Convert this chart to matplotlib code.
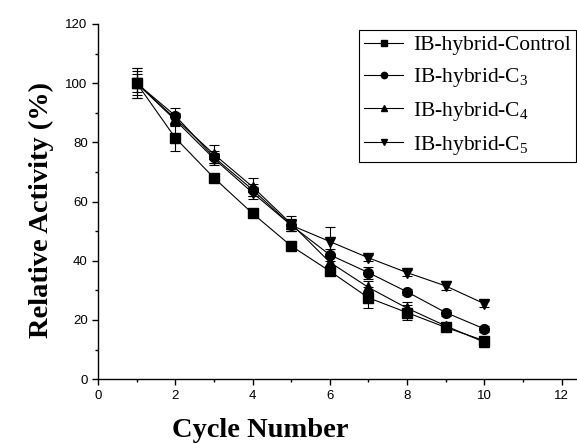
import numpy as np
import matplotlib
matplotlib.use("Agg")
import matplotlib.pyplot as plt
from matplotlib.ticker import MultipleLocator

plt.rcParams['mathtext.fontset'] = 'custom'
plt.rcParams['mathtext.rm'] = 'Liberation Serif'
plt.rcParams['mathtext.it'] = 'Liberation Serif:italic'

# reuse cycles and relative activity (%) for each immobilised enzyme
cycles = [1, 2, 3, 4, 5, 6, 7, 8, 9, 10]
control = [100, 81.5, 68, 56, 45, 36.5, 27.5, 22.5, 17.5, 13]
c3 = [100, 89, 75, 64, 52, 42, 36, 29.5, 22.5, 17]
c4 = [100, 88, 76, 65, 52.5, 39.5, 31, 24, 18, 12.5]
c5 = [100, 87.5, 74.5, 63, 52, 46.5, 41, 36, 31.5, 25.5]

control_err = [5, 4.5, 1, 1, 1, 1, 3.5, 2.5, 1, 1]
c3_err = [4, 2.5, 2, 2, 2, 2, 2, 1, 1, 1]
c4_err = [5, 2, 3, 3, 2.5, 2, 2, 2, 1, 1]
c5_err = [3, 2, 2, 2, 2, 5, 1, 1, 1.5, 1]

labels = ['IB-hybrid-Control', 'IB-hybrid-C$_3$', 'IB-hybrid-C$_4$', 'IB-hybrid-C$_5$']
markers = ['s', 'o', '^', 'v']

fig = plt.figure(figsize=(5.77, 4.44), dpi=100)
ax = fig.add_axes([0.170, 0.146, 0.830, 0.800])

series = [(control, control_err), (c3, c3_err), (c4, c4_err), (c5, c5_err)]
for (vals, err), lab, m in zip(series, labels, markers):
    ax.errorbar(cycles, vals, yerr=err, color='black', lw=0.8, marker=m,
                markersize=7, capsize=3.5, elinewidth=0.8, capthick=0.8,
                label=lab)

ax.set_xlim(0, 12.4)
ax.set_ylim(0, 120)
ax.xaxis.set_major_locator(MultipleLocator(2))
ax.xaxis.set_minor_locator(MultipleLocator(1))
ax.yaxis.set_major_locator(MultipleLocator(20))
ax.yaxis.set_minor_locator(MultipleLocator(10))
ax.tick_params(which='major', direction='out', length=4, width=1,
               labelsize=9.5)
ax.tick_params(which='minor', direction='out', length=2.5, width=1)
for lab in ax.get_xticklabels() + ax.get_yticklabels():
    lab.set_fontfamily('Liberation Sans')

ax.spines['top'].set_visible(False)
ax.spines['right'].set_visible(False)
ax.spines['left'].set_linewidth(1)
ax.spines['bottom'].set_linewidth(1)

ax.set_xlabel('Cycle Number', fontsize=20.5, fontweight='bold',
              family='Liberation Serif', labelpad=12, x=0.338)
ax.set_ylabel('Relative Activity (%)', fontsize=20.5, fontweight='bold',
              family='Liberation Serif', labelpad=8, y=0.476)

# legend without error bars in the handles
handles, labs = ax.get_legend_handles_labels()
handles = [h[0] for h in handles]
leg = ax.legend(handles, labs, loc='upper right',
                bbox_to_anchor=(0.998, 0.983), borderaxespad=0,
                frameon=True, fancybox=False,
                edgecolor='black', framealpha=1, markerscale=0.65,
                handlelength=1.8, handletextpad=0.45, labelspacing=0.5,
                borderpad=0.25, prop={'family': 'Liberation Serif', 'size': 15.5})
leg.get_frame().set_linewidth(0.8)

fig.savefig('out.png', dpi=100)
